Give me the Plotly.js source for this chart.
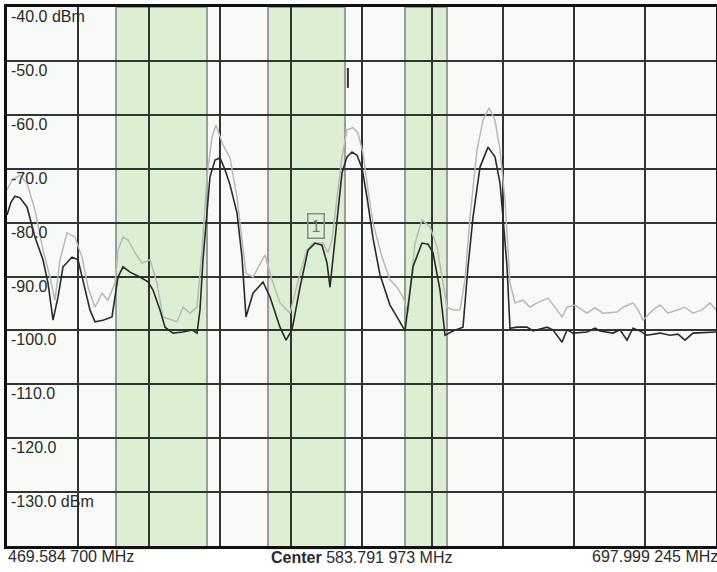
<!DOCTYPE html>
<html>
<head>
<meta charset="utf-8">
<script src="https://cdn.plot.ly/plotly-3.0.1.min.js"></script>
<style>
html,body{margin:0;padding:0;background:#fff;}
#chart{width:717px;height:572px;}
</style>
</head>
<body>
<div id="chart"></div>
<script>
// Frequency span (MHz) and level range (dBm)
const startFreq = 469.5847;
const stopFreq = 697.999245;
const centerFreq = 583.791973;
const refLevel = -40;
const bottomLevel = -140;

// Level grid labels
const levelTicks = [-40, -50, -60, -70, -80, -90, -100, -110, -120, -130];
const levelLabels = ["-40.0 dBm", "-50.0", "-60.0", "-70.0", "-80.0", "-90.0", "-100.0", "-110.0", "-120.0", "-130.0 dBm"];

// Frequency labels
const startLabel = "469.584 700 MHz";
const centerLabel = "<b>Center</b> 583.791 973 MHz";
const stopLabel = "697.999 245 MHz";

// Highlighted channel bands (MHz)
const bandStart = [504.70, 553.67, 597.80];
const bandEnd = [534.02, 578.47, 611.33];

// Marker 1
const markerFreq = 569.13;
const markerLevel = -80.6;
// Small cursor tick
const cursorFreq = 579.4;
const cursorTop = -51.3;
const cursorBottom = -55.0;

// Current trace (dark)
const blackFreq = [469.59,470.87,472.16,473.77,476.03,478.61,481.18,482.79,484.41,486.02,487.63,490.53,492.46,494.71,496.32,497.94,500.51,503.41,504.38,505.34,506.96,509.21,512.43,515.01,516.62,518.88,520.49,523.06,526.29,529.18,530.80,531.76,532.73,534.02,534.98,536.60,538.21,539.82,541.43,543.68,545.29,546.58,548.84,552.06,554.31,557.53,559.47,561.40,563.98,566.56,568.81,571.07,572.68,573.64,574.61,575.90,577.51,579.12,580.73,582.34,583.96,585.57,587.50,589.75,592.97,595.23,597.81,600.38,603.28,605.22,606.83,609.08,610.70,613.27,616.49,618.11,619.72,621.97,624.55,626.80,628.41,629.38,630.67,631.63,633.89,637.11,639.04,643.55,645.49,648.39,650.00,651.93,656.44,659.02,660.63,664.82,667.07,669.33,671.26,673.52,675.77,679.96,683.18,685.76,688.01,690.59,695.10,698.00];
const blackLevel = [-78.6,-76.2,-75.1,-75.4,-77.1,-82.7,-86.9,-91.2,-98.1,-93.8,-88.2,-86.4,-86.9,-92.0,-96.2,-98.4,-98.1,-97.5,-93.8,-90.1,-88.2,-89.2,-90.1,-91.0,-92.5,-96.2,-99.4,-100.5,-100.3,-99.9,-100.5,-96.2,-86.9,-77.7,-71.5,-68.4,-68.0,-70.2,-73.0,-78.2,-86.4,-97.5,-93.1,-91.0,-93.8,-99.4,-101.8,-99.9,-92.0,-85.1,-83.8,-84.2,-87.5,-92.0,-86.9,-79.0,-70.8,-67.8,-66.9,-67.5,-69.9,-75.3,-82.9,-89.7,-95.3,-97.5,-100.1,-88.2,-83.8,-84.0,-85.6,-92.5,-100.9,-100.1,-99.4,-88.2,-79.0,-69.7,-66.0,-67.8,-72.7,-79.0,-88.2,-99.6,-99.4,-99.4,-100.1,-99.4,-99.9,-102.2,-99.9,-100.5,-100.3,-99.6,-100.1,-100.5,-99.9,-101.8,-99.6,-100.1,-100.9,-100.5,-100.9,-100.7,-101.8,-100.5,-100.3,-100.3];

// Max-hold trace (light)
const grayFreq = [469.59,471.20,473.77,476.03,478.61,481.18,483.44,485.05,486.66,488.92,491.49,493.75,495.68,497.94,500.19,502.12,504.38,505.34,506.96,508.57,510.82,513.08,515.66,517.91,519.84,522.74,524.35,526.29,528.54,530.80,532.41,534.02,535.63,536.92,539.17,541.43,543.68,545.29,546.58,548.84,552.70,554.96,557.53,560.76,563.98,566.23,568.17,571.39,573.00,574.29,575.90,577.51,579.12,581.05,582.67,584.28,585.89,587.50,590.40,592.97,595.23,597.16,598.77,601.03,603.28,605.86,608.12,609.73,611.34,613.27,615.52,617.14,618.75,621.00,622.93,624.87,626.80,628.41,630.02,631.63,633.25,635.82,638.08,640.33,642.26,643.88,646.77,648.39,650.00,652.57,656.44,659.02,661.60,666.11,668.04,671.26,672.87,674.48,677.70,679.96,682.53,685.43,688.01,690.59,693.49,696.06,698.00];
const grayLevel = [-74.0,-72.1,-71.2,-72.7,-77.7,-85.1,-90.1,-94.4,-86.9,-81.9,-82.7,-86.4,-92.0,-95.7,-93.1,-94.4,-91.2,-85.1,-82.7,-83.2,-85.6,-87.5,-86.9,-91.2,-97.5,-98.1,-98.4,-95.7,-96.8,-95.7,-85.1,-71.5,-64.1,-61.9,-65.6,-68.0,-75.3,-83.2,-89.4,-90.1,-86.0,-90.6,-94.9,-96.8,-89.4,-85.1,-83.8,-83.8,-85.6,-83.2,-75.8,-67.8,-62.8,-62.4,-63.4,-67.1,-74.0,-80.1,-86.4,-90.6,-92.0,-93.8,-96.8,-83.8,-79.5,-80.8,-84.5,-90.1,-95.7,-96.2,-96.2,-90.6,-79.0,-66.5,-61.0,-58.7,-61.0,-66.5,-75.8,-91.2,-94.9,-94.4,-95.7,-94.9,-94.4,-94.0,-96.2,-97.5,-95.7,-95.3,-96.8,-95.8,-96.8,-96.6,-95.7,-94.9,-96.2,-98.1,-96.2,-95.3,-96.8,-96.2,-95.7,-96.8,-96.2,-94.9,-96.2];

const labelFont = {family: "Liberation Sans, Arial, sans-serif", size: 16, color: "#2a2a2a"};

const traces = [
  {x: grayFreq, y: grayLevel, type: "scatter", mode: "lines",
   line: {color: "#b9b9b9", width: 1.5}, hoverinfo: "skip"},
  {x: blackFreq, y: blackLevel, type: "scatter", mode: "lines",
   line: {color: "#2b2b2b", width: 1.6}, hoverinfo: "skip"}
];

const shapes = [];
for (let i = 0; i < bandStart.length; i++) {
  shapes.push({type: "rect", layer: "below", xref: "x", yref: "paper",
    x0: bandStart[i], x1: bandEnd[i], y0: -0.004, y1: 1,
    fillcolor: "#dcefd2", line: {color: "#9c9c9c", width: 2}});
}
shapes.push({type: "line", xref: "x", yref: "y", x0: cursorFreq, x1: cursorFreq,
  y0: cursorTop, y1: cursorBottom, line: {color: "#333", width: 2}});

const annotations = [];
for (let i = 0; i < levelTicks.length; i++) {
  annotations.push({xref: "paper", yref: "y", x: 0, y: levelTicks[i],
    xanchor: "left", yanchor: "top", xshift: 2, yshift: 1,
    text: levelLabels[i], showarrow: false, font: labelFont});
}
annotations.push({xref: "paper", yref: "paper", x: 0, y: 0, xanchor: "left", yanchor: "top",
  xshift: -1, yshift: 0, text: startLabel, showarrow: false, font: labelFont});
annotations.push({xref: "paper", yref: "paper", x: 0.5, y: 0, xanchor: "center", yanchor: "top",
  yshift: -1, text: centerLabel, showarrow: false, font: labelFont});
annotations.push({xref: "paper", yref: "paper", x: 1, y: 0, xanchor: "right", yanchor: "top",
  xshift: 4, yshift: 0, text: stopLabel, showarrow: false, font: labelFont});
annotations.push({xref: "x", yref: "y", x: markerFreq, y: markerLevel, showarrow: false,
  text: "1", font: {family: "Liberation Sans, Arial, sans-serif", size: 16, color: "#777"},
  bordercolor: "#8a8a8a", borderwidth: 1.5, borderpad: 3, bgcolor: "rgba(0,0,0,0)"});

const layout = {
  width: 717, height: 572,
  margin: {l: 7, r: 1, t: 7, b: 26, pad: 0},
  paper_bgcolor: "#ffffff",
  plot_bgcolor: "#f7faf7",
  showlegend: false,
  xaxis: {range: [startFreq, stopFreq], tick0: startFreq, dtick: (stopFreq - startFreq) / 10,
    showgrid: true, gridcolor: "#333333", gridwidth: 2, zeroline: false,
    showticklabels: false, ticks: "", showline: true, linecolor: "#111", linewidth: 3, mirror: true,
    fixedrange: true},
  yaxis: {range: [bottomLevel, refLevel], tick0: bottomLevel, dtick: 10,
    showgrid: true, gridcolor: "#333333", gridwidth: 2, zeroline: false,
    showticklabels: false, ticks: "", showline: true, linecolor: "#111", linewidth: 3, mirror: true,
    fixedrange: true},
  shapes: shapes,
  annotations: annotations
};

Plotly.newPlot("chart", traces, layout, {displayModeBar: false, staticPlot: true});
</script>
</body>
</html>
